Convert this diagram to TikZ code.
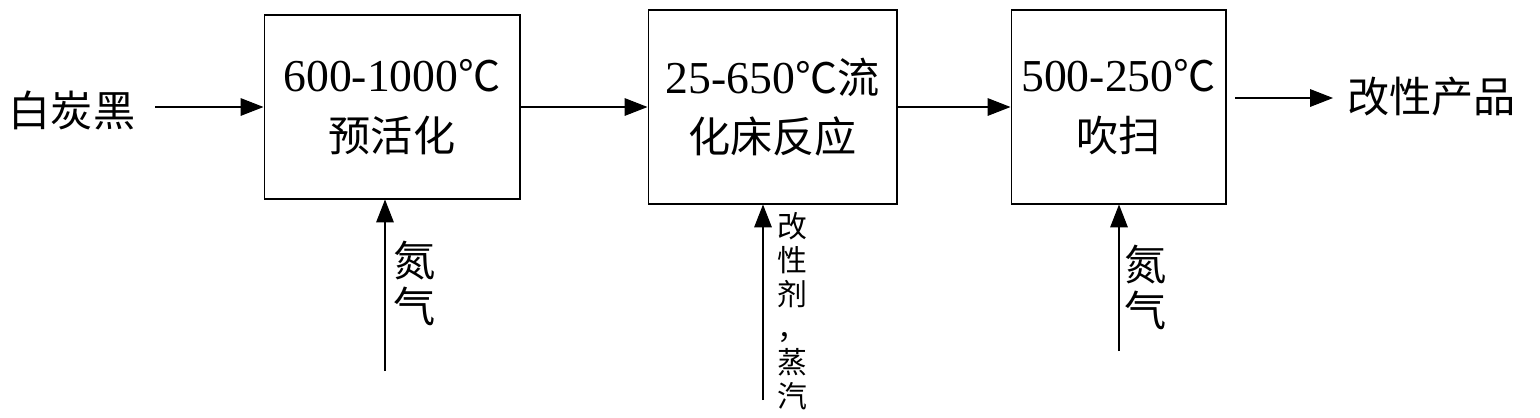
\documentclass[tikz,border=0pt]{standalone}
\usepackage{fontspec}
\setmainfont{Liberation Serif}
\newfontfamily\cjk{Noto Sans CJK SC}
\usepackage{tikz}
\usetikzlibrary{arrows.meta,calc}

\begin{document}
\begin{tikzpicture}[
x=0.02cm,y=-0.02cm,
stage/.style={draw,line width=0.6pt,align=center,inner sep=0pt,
  font=\fontsize{26}{34}\selectfont},
flow/.style={line width=0.6pt,-{Triangle[length=13pt,width=10pt]}},
label/.style={inner sep=0pt,font=\fontsize{24}{26}\selectfont\cjk},
side/.style={inner sep=0pt,align=center,font=\fontsize{24}{26}\selectfont\cjk},
smallside/.style={inner sep=0pt,align=center,font=\fontsize{17}{19.3}\selectfont\cjk},
]
\useasboundingbox (0,0) rectangle (1540,417);
% process stages
\node[stage,minimum width=5.12cm,minimum height=3.68cm] (pre) at (392,107)
  {600-1000{\fontsize{24}{34}\selectfont\cjk ℃}\\{\fontsize{24}{34}\selectfont\cjk 预活化}};
\node[stage,minimum width=4.98cm,minimum height=3.88cm] (bed) at (772.5,107)
  {25-650{\fontsize{24}{34}\selectfont\cjk ℃流}\\{\fontsize{24}{34}\selectfont\cjk 化床反应}};
\node[stage,minimum width=4.3cm,minimum height=3.88cm] (purge) at (1118.5,107)
  {500-250{\fontsize{24}{34}\selectfont\cjk ℃}\\{\fontsize{24}{34}\selectfont\cjk 吹扫}};
% feed and product
\node[label] (raw) at (72,110) {白炭黑};
\node[label,anchor=west] (prod) at (1347,97) {改性产品};
\coordinate (rawout) at (155,107);
\coordinate (prodin) at (1235,98);
\coordinate (prodtip) at (1333,98);
\draw[flow] (rawout) -- (pre.west |- rawout);
\draw[flow] (pre.east |- rawout) -- (bed.west |- rawout);
\draw[flow] (bed.east |- rawout) -- (purge.west |- rawout);
\draw[flow] (prodin) -- (prodtip);
% gas feeds from below
\coordinate (gas1) at (385,371);
\coordinate (gas2) at (763,400);
\coordinate (gas3) at (1119,351);
\draw[flow] (gas1) -- (gas1 |- pre.south);
\draw[flow] (gas2) -- (gas2 |- bed.south);
\draw[flow] (gas3) -- (gas3 |- purge.south);
\node[side,anchor=north west] (n1) at (393,241) {氮\\气};
\node[smallside,anchor=north west] (mod) at (777,212) {改\\性\\剂\\，\\蒸\\汽};
\node[side,anchor=north west] (n2) at (1124,245) {氮\\气};
\end{tikzpicture}
\end{document}
